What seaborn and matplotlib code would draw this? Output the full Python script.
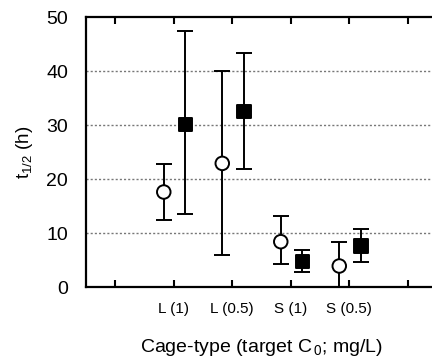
import matplotlib
matplotlib.use("Agg")
import matplotlib.pyplot as plt
import seaborn as sns
import pandas as pd
import numpy as np

# Data
categories = ["L (1)", "L (0.5)", "S (1)", "S (0.5)"]
open_mean = [17.6, 22.9, 8.4, 3.9]
open_low = [12.5, 5.9, 4.2, 0.0]
open_high = [22.8, 40.0, 13.2, 8.3]
filled_mean = [30.1, 32.5, 4.7, 7.6]
filled_low = [13.5, 21.9, 2.7, 4.6]
filled_high = [47.5, 43.3, 6.8, 10.7]
tick_labels = ["", "L (1)", "L (0.5)", "S (1)", "S (0.5)", ""]
yticks = [0, 10, 20, 30, 40, 50]

sns.set_theme(style="white")
plt.rcParams['font.family'] = ['Liberation Sans', 'DejaVu Sans']
plt.rcParams['mathtext.fontset'] = 'custom'
plt.rcParams['mathtext.rm'] = 'Liberation Sans'
plt.rcParams['mathtext.it'] = 'Liberation Sans'

pos = np.arange(1, len(categories) + 1)
df = pd.DataFrame({
    "x": np.concatenate([pos - 0.17, pos + 0.2]),
    "y": open_mean + filled_mean,
    "lo": open_low + filled_low,
    "hi": open_high + filled_high,
    "series": ["open"] * 4 + ["filled"] * 4,
})

fig = plt.figure(figsize=(4.32, 3.62), dpi=100)
ax = fig.add_axes([0.199, 0.207, 0.8125, 0.746])

for y in [10, 20, 30, 40]:
    ax.axhline(y, color="#777777", lw=1.0, ls=(0, (1.5, 1.5)), zorder=0)

ax.errorbar(df["x"], df["y"], yerr=[df["y"] - df["lo"], df["hi"] - df["y"]],
            fmt="none", ecolor="black", elinewidth=1.4, capsize=5.5, capthick=1.4,
            zorder=2, clip_on=True)

sns.scatterplot(data=df, x="x", y="y", hue="series", style="series",
                markers={"open": "o", "filled": "s"},
                palette={"open": "white", "filled": "black"},
                edgecolor="black", linewidth=1.4, s=95, legend=False, ax=ax, zorder=3)

ax.set_xlim(-0.5, 5.5)
ax.set_ylim(0, 50)
ax.set_xticks(range(6))
ax.set_xticklabels(tick_labels, fontsize=11)
ax.set_yticks(yticks)
ax.set_yticklabels([str(t) for t in yticks], fontsize=14)
ax.tick_params(axis="x", direction="in", length=5, width=1.5, top=True, bottom=True, pad=11, colors="black")
ax.tick_params(axis="y", left=False, pad=7, colors="black")
for side in ["left", "bottom", "top"]:
    ax.spines[side].set_visible(True)
    ax.spines[side].set_linewidth(1.6)
    ax.spines[side].set_color("black")
ax.spines["right"].set_visible(False)

ax.set_xlabel("Cage-type (target C$_{\\,0}$; mg/L)", fontsize=14, labelpad=15, color="black")
ax.set_ylabel("t$_{1/2}$ (h)", fontsize=13.5, labelpad=8, color="black")

fig.savefig("out.png", dpi=100)
